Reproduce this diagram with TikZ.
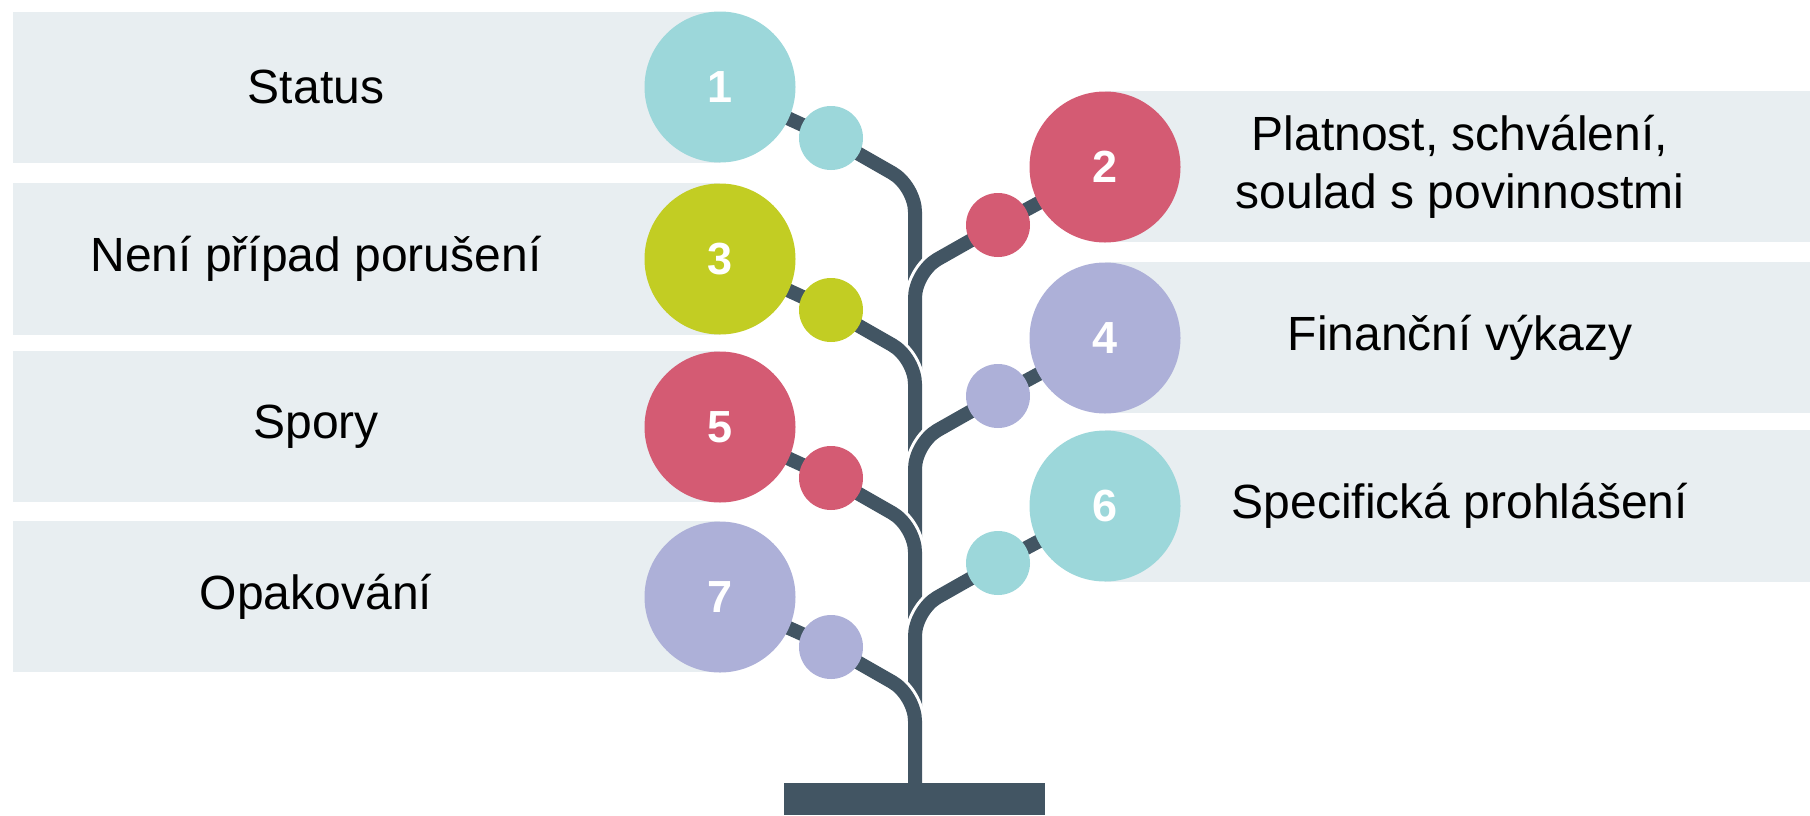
\documentclass[tikz,border=0pt]{standalone}
\usepackage{fontspec}
\setmainfont{Liberation Sans}
\definecolor{trunk}{HTML}{425563}
\definecolor{bargray}{HTML}{E8EEF1}
\definecolor{teal}{HTML}{9CD7DA}
\definecolor{rose}{HTML}{D45B73}
\definecolor{lime}{HTML}{C2CD23}
\definecolor{lilac}{HTML}{ADB0D8}

\begin{document}
\begin{tikzpicture}[x=1pt,y=-1pt,
      bar/.style={fill=bargray},
      big/.style={circle,minimum size=151pt,inner sep=0pt,text=white,font=\fontsize{45}{45}\selectfont\bfseries},
      small/.style={circle,minimum size=64pt,inner sep=0pt},
      branch/.style={draw=trunk,line width=14pt,rounded corners=26pt,preaction={draw=white,line width=20pt}},
      txt/.style={font=\fontsize{48}{58}\selectfont,align=center}
      ]
      \useasboundingbox (0,0) rectangle (1810,815);

      % grey bars
      \fill[bar] (13,12) rectangle (720,163);
      \fill[bar] (13,183) rectangle (720,335);
      \fill[bar] (13,351) rectangle (720,502);
      \fill[bar] (13,521) rectangle (720,672);
      \fill[bar] (1105,91) rectangle (1810,242);
      \fill[bar] (1105,262) rectangle (1810,413);
      \fill[bar] (1105,430) rectangle (1810,582);

      % tree
      \coordinate (root) at (915,783);
      \coordinate (p1) at (720,87);   \coordinate (q1) at (831,138);  \coordinate (k1) at (915,186);
      \coordinate (p2) at (1105,167); \coordinate (q2) at (998,225);  \coordinate (k2) at (915,272);
      \coordinate (p3) at (720,259);  \coordinate (q3) at (831,310);  \coordinate (k3) at (915,358);
      \coordinate (p4) at (1105,338); \coordinate (q4) at (998,396);  \coordinate (k4) at (915,443);
      \coordinate (p5) at (720,427);  \coordinate (q5) at (831,478);  \coordinate (k5) at (915,526);
      \coordinate (p6) at (1105,506); \coordinate (q6) at (998,563);  \coordinate (k6) at (915,610);
      \coordinate (p7) at (720,597);  \coordinate (q7) at (831,647);  \coordinate (k7) at (915,695);
      \draw[branch] (p1) -- (q1) -- (k1) -- (root);
      \draw[branch] (p2) -- (q2) -- (k2) -- (root);
      \draw[branch] (p3) -- (q3) -- (k3) -- (root);
      \draw[branch] (p4) -- (q4) -- (k4) -- (root);
      \draw[branch] (p5) -- (q5) -- (k5) -- (root);
      \draw[branch] (p6) -- (q6) -- (k6) -- (root);
      \draw[branch] (p7) -- (q7) -- (k7) -- (root);
      \fill[trunk] (784,783) rectangle (1045,815);

      % circles
      \node[big,fill=teal] (n1) at (p1) {1};   \node[small,fill=teal] (m1) at (q1) {};
      \node[big,fill=rose] (n2) at (p2) {2};   \node[small,fill=rose] (m2) at (q2) {};
      \node[big,fill=lime] (n3) at (p3) {3};   \node[small,fill=lime] (m3) at (q3) {};
      \node[big,fill=lilac] (n4) at (p4) {4};  \node[small,fill=lilac] (m4) at (q4) {};
      \node[big,fill=rose] (n5) at (p5) {5};   \node[small,fill=rose] (m5) at (q5) {};
      \node[big,fill=teal] (n6) at (p6) {6};   \node[small,fill=teal] (m6) at (q6) {};
      \node[big,fill=lilac] (n7) at (p7) {7};  \node[small,fill=lilac] (m7) at (q7) {};

      % texts
      \node[txt] (t1) at (316,87) {Status};
      \node[txt] (t3) at (316,259) {Není případ porušení};
      \node[txt] (t5) at (316,427) {Spory};
      \node[txt] (t7) at (316,597) {Opakování};
      \node[txt] (t2) at (1460,167) {Platnost, schválení,\\soulad s povinnostmi};
      \node[txt] (t4) at (1460,338) {Finanční výkazy};
      \node[txt] (t6) at (1460,506) {Specifická prohlášení};
    \end{tikzpicture}
\end{document}
